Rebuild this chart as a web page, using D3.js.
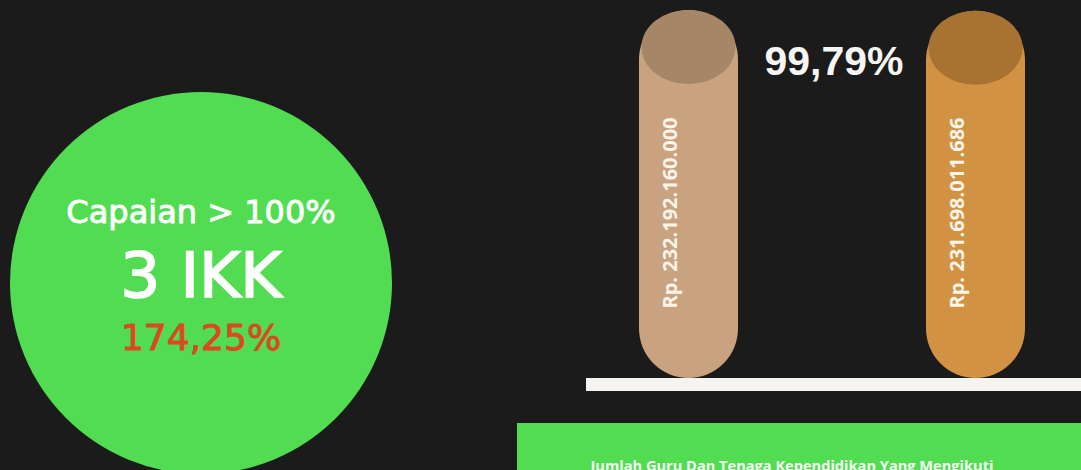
<!DOCTYPE html>
<html>
<head>
<meta charset="utf-8">
<script src="https://cdn.jsdelivr.net/npm/d3@7"></script>
<style>
  html, body { margin: 0; padding: 0; background: #1b1b1b; overflow: hidden; }
</style>
</head>
<body>
<div id="chart"></div>
<script>
// anggaran: pagu vs realisasi
var categories = ["Pagu", "Realisasi"];
var values = [232192160000, 231698011686];
var valueLabels = ["Rp. 232.192.160.000", "Rp. 231.698.011.686"];
var bodyColors = ["#c9a37f", "#d19343"];
var capColors = ["#a78667", "#a87331"];
var percentLabel = "99,79%";

// lingkaran capaian
var circleLines = ["Capaian > 100%", "3 IKK", "174,25%"];
var footerText = "Jumlah Guru Dan Tenaga Kependidikan Yang Mengikuti";

var width = 1081, height = 470;

var svg = d3.select("#chart").append("svg")
	.attr("width", width)
	.attr("height", height);

svg.append("rect")
	.attr("width", width).attr("height", height)
	.attr("fill", "#1b1b1b");

////////////////// circle //////////////////
var circle = svg.append("g").attr("transform", "translate(201,283)");
circle.append("circle").attr("r", 191).attr("fill", "#52dc52");

// stroke tipis supaya hurufnya agak tebal (semi-bold)
circle.append("text")
	.attr("y", -60).attr("text-anchor", "middle")
	.attr("font-family", "DejaVu Sans").attr("font-size", 32)
	.attr("fill", "#ffffff").attr("stroke", "#ffffff").attr("stroke-width", 0.9)
	.text(circleLines[0]);
circle.append("text")
	.attr("y", 14).attr("text-anchor", "middle")
	.attr("font-family", "DejaVu Sans").attr("font-size", 63)
	.attr("fill", "#ffffff").attr("stroke", "#ffffff").attr("stroke-width", 1.6)
	.text(circleLines[1]);
circle.append("text")
	.attr("y", 67).attr("text-anchor", "middle")
	.attr("font-family", "DejaVu Sans").attr("font-size", 36)
	.attr("fill", "#d94a22").attr("stroke", "#d94a22").attr("stroke-width", 1)
	.text(circleLines[2]);

////////////////// cylinders //////////////////
var baseY = 378, topY = 10, barW = 99;

var x = d3.scalePoint()
	.domain(categories)
	.range([688.5, 975.5]);

var y = d3.scaleLinear()
	.domain([0, d3.max(values)])
	.range([baseY, topY]);

var bars = svg.selectAll("g.bar")
	.data(categories)
	.enter().append("g")
	.attr("class", "bar");

bars.append("rect")
	.attr("x", function(d) { return x(d) - barW / 2; })
	.attr("y", function(d, i) { return y(values[i]); })
	.attr("width", barW)
	.attr("height", function(d, i) { return baseY - y(values[i]); })
	.attr("rx", barW / 2)
	.attr("fill", function(d, i) { return bodyColors[i]; });

bars.append("ellipse")
	.attr("cx", function(d) { return x(d); })
	.attr("cy", function(d, i) { return y(values[i]) + 37; })
	.attr("rx", 47)
	.attr("ry", 37)
	.attr("fill", function(d, i) { return capColors[i]; });

bars.append("text")
	.attr("transform", function(d) { return "translate(" + (x(d) - 19) + ",213) rotate(-90)"; })
	.attr("text-anchor", "middle")
	.attr("dominant-baseline", "central")
	.attr("font-family", "Open Sans").attr("font-weight", 700).attr("font-size", 20)
	.attr("fill", "#fbf4ea")
	.text(function(d, i) { return valueLabels[i]; });

// garis dasar
svg.append("rect")
	.attr("x", 586).attr("y", baseY)
	.attr("width", width - 586).attr("height", 13)
	.attr("fill", "#f6f4f0");

svg.append("text")
	.attr("x", 834).attr("y", 75)
	.attr("text-anchor", "middle")
	.attr("font-family", "Liberation Sans").attr("font-weight", 700).attr("font-size", 41)
	.attr("fill", "#f6f6f2")
	.text(percentLabel);

////////////////// footer box //////////////////
svg.append("rect")
	.attr("x", 517).attr("y", 423)
	.attr("width", width - 517).attr("height", 60)
	.attr("fill", "#52dc52");

svg.append("text")
	.attr("x", 792).attr("y", 471)
	.attr("text-anchor", "middle")
	.attr("font-family", "Open Sans").attr("font-weight", 700).attr("font-size", 14.6)
	.attr("fill", "#f4fbf2")
	.text(footerText);
</script>
</body>
</html>
